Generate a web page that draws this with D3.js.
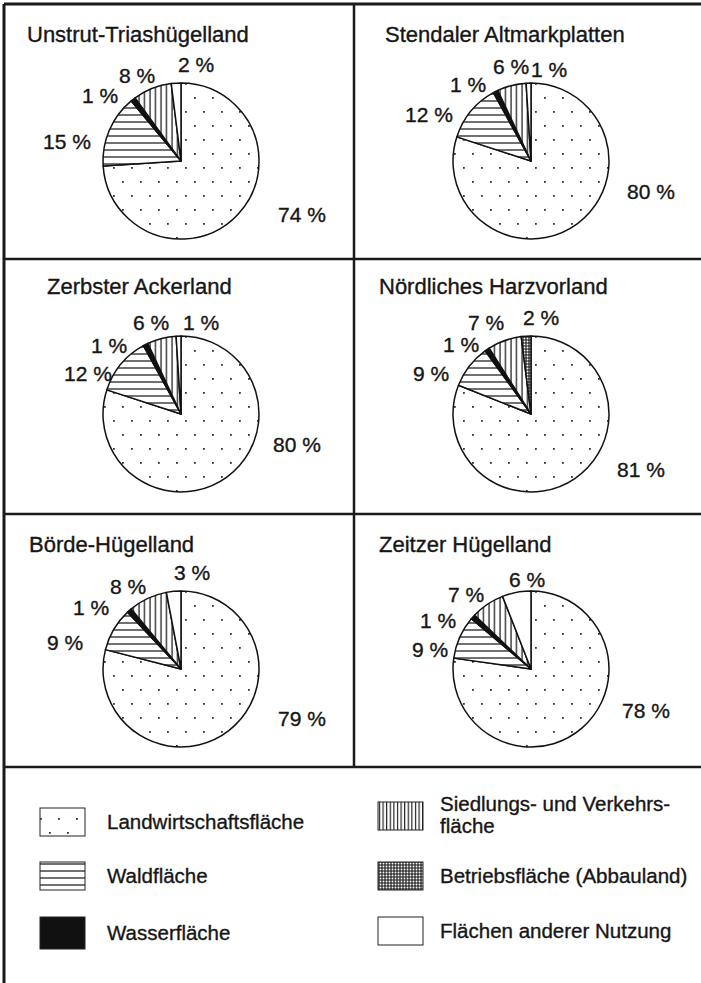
<!DOCTYPE html>
<html>
<head>
<meta charset="utf-8">
<script src="https://cdn.jsdelivr.net/npm/d3@7"></script>
<style>
  body { margin: 0; background: #fff; }
  text { font-family: "Liberation Sans", Arial, sans-serif; fill: #161616; stroke: #161616; stroke-width: 0.35px; }
</style>
</head>
<body>
<div id="chart"></div>
<script>
// Flächennutzung nach Landschaftseinheiten (Anteile in %)
const regions = ["Unstrut-Triashügelland", "Stendaler Altmarkplatten", "Zerbster Ackerland",
                 "Nördliches Harzvorland", "Börde-Hügelland", "Zeitzer Hügelland"];
const categories = ["Landwirtschaftsfläche", "Waldfläche", "Wasserfläche",
                    "Siedlungs- und Verkehrsfläche", "Betriebsfläche (Abbauland)", "Flächen anderer Nutzung"];
const landwirtschaft = [74, 80, 80, 81, 79, 78];
const wald           = [15, 12, 12,  9,  9,  9];
const wasser         = [ 1,  1,  1,  1,  1,  1];
const siedlung       = [ 8,  6,  6,  7,  8,  7];
const betrieb        = [ 0,  0,  0,  2,  0,  0];
const andere         = [ 2,  1,  1,  0,  3,  6];

// label placement (left/baseline, relative to pie centre), one per non-zero slice
const labelOffsets = [
  [[97, 61], [-138, -12], [-99, -58], [-62, -78], [-3, -89]],
  [[96, 38], [-126, -39], [-81, -69], [-38, -87], [0, -84]],
  [[92, 38], [-117, -33], [-90, -61], [-48, -84], [2, -84]],
  [[86, 63], [-118, -33], [-88, -62], [-63, -84], [-8, -89]],
  [[97, 57], [-134, -19], [-108, -54], [-71, -75], [-7, -89]],
  [[91, 49], [-119, -12], [-111, -41], [-83, -67], [-22, -82]]
];
const titleDx = [23, 31, 43, 25, 25, 25];

const width = 701, height = 983;
const radius = 78;
const colX = [4, 354], rowY = [4, 259, 514, 767];

const svg = d3.select("#chart").append("svg")
    .attr("width", width).attr("height", height);

// fill patterns
const defs = svg.append("defs");

let p = defs.append("pattern").attr("id", "dots").attr("patternUnits", "userSpaceOnUse")
    .attr("width", 18).attr("height", 28);
p.append("rect").attr("width", 18).attr("height", 28).attr("fill", "#fff");
p.append("rect").attr("x", 4).attr("y", 6).attr("width", 1.8).attr("height", 1.8).attr("fill", "#333");
p.append("rect").attr("x", 13).attr("y", 20).attr("width", 1.8).attr("height", 1.8).attr("fill", "#333");

p = defs.append("pattern").attr("id", "hlines").attr("patternUnits", "userSpaceOnUse")
    .attr("width", 10).attr("height", 7);
p.append("rect").attr("width", 10).attr("height", 7).attr("fill", "#fff");
p.append("line").attr("x1", 0).attr("x2", 10).attr("y1", 3).attr("y2", 3)
    .attr("stroke", "#111").attr("stroke-width", 1.2);

p = defs.append("pattern").attr("id", "vlines").attr("patternUnits", "userSpaceOnUse")
    .attr("width", 5.5).attr("height", 10);
p.append("rect").attr("width", 5.5).attr("height", 10).attr("fill", "#fff");
p.append("line").attr("x1", 2).attr("x2", 2).attr("y1", 0).attr("y2", 10)
    .attr("stroke", "#111").attr("stroke-width", 1.2);

p = defs.append("pattern").attr("id", "vlinesLeg").attr("patternUnits", "userSpaceOnUse")
    .attr("width", 3.6).attr("height", 10);
p.append("rect").attr("width", 3.6).attr("height", 10).attr("fill", "#fff");
p.append("line").attr("x1", 1.5).attr("x2", 1.5).attr("y1", 0).attr("y2", 10)
    .attr("stroke", "#111").attr("stroke-width", 1.1);

p = defs.append("pattern").attr("id", "grid").attr("patternUnits", "userSpaceOnUse")
    .attr("width", 3).attr("height", 3);
p.append("rect").attr("width", 3).attr("height", 3).attr("fill", "#fff");
p.append("path").attr("d", "M1,0V3M0,1H3").attr("stroke", "#111").attr("stroke-width", 1.1);

const fills = ["url(#dots)", "url(#hlines)", "#111", "url(#vlines)", "url(#grid)", "#fff"];
const legendFills = ["url(#dots)", "url(#hlines)", "#111", "url(#vlinesLeg)", "url(#grid)", "#fff"];

// frame
const frame = svg.append("g").attr("fill", "none").attr("stroke", "#1a1a1a");
frame.append("line").attr("x1", colX[0]).attr("x2", colX[0]).attr("y1", rowY[0]).attr("y2", height)
    .attr("stroke-width", 3);
frame.append("line").attr("x1", colX[0]).attr("x2", width).attr("y1", rowY[0]).attr("y2", rowY[0])
    .attr("stroke-width", 3);
rowY.slice(1).forEach(y => frame.append("line").attr("x1", colX[0]).attr("x2", width)
    .attr("y1", y).attr("y2", y).attr("stroke-width", 2.5));
frame.append("line").attr("x1", colX[1]).attr("x2", colX[1]).attr("y1", rowY[0]).attr("y2", rowY[3])
    .attr("stroke-width", 2.5);

const pie = d3.pie().sort(null).value(d => d.v);
const arc = d3.arc().innerRadius(0).outerRadius(radius);

regions.forEach((name, i) => {
  const px = colX[i % 2], py = rowY[Math.floor(i / 2)];
  const cx = px + 177, cy = py + (i < 2 ? 157 : 155);
  const g = svg.append("g");

  g.append("text").attr("x", px + titleDx[i]).attr("y", py + (i === 2 || i === 3 ? 35 : 38))
      .attr("font-size", 22).text(name);

  const vals = [landwirtschaft[i], wald[i], wasser[i], siedlung[i], betrieb[i], andere[i]]
      .map((v, k) => ({v, k}));
  const arcs = pie(vals);

  const pg = g.append("g").attr("transform", `translate(${cx},${cy})`);
  pg.selectAll("path").data(arcs.filter(a => a.data.v > 0)).join("path")
      .attr("d", arc)
      .attr("fill", d => fills[d.data.k])
      .attr("stroke", "#111").attr("stroke-width", 1.5).attr("stroke-linejoin", "round");

  const shown = arcs.filter(a => a.data.v > 0);
  pg.selectAll("text").data(shown).join("text")
      .attr("x", (d, j) => labelOffsets[i][j][0])
      .attr("y", (d, j) => labelOffsets[i][j][1])
      .attr("font-size", 21)
      .text(d => d.data.v + " %");
});

// legend
const legX = [40, 378], legY = [808, 862, 917];
const leg = svg.append("g");
categories.forEach((c, k) => {
  const col = Math.floor(k / 3), row = k % 3;
  const bx = legX[col], by = legY[row];
  const bh = (k === 2) ? 32 : 28;
  leg.append("rect").attr("x", bx).attr("y", by - (k === 3 ? 6 : 0))
      .attr("width", 45).attr("height", bh)
      .attr("fill", legendFills[k]).attr("stroke", "#222").attr("stroke-width", 1);
  const t = leg.append("text").attr("font-size", 20.5);
  if (k === 3) {
    t.attr("y", by + 3);
    t.append("tspan").attr("x", bx + 62).text("Siedlungs- und Verkehrs-");
    t.append("tspan").attr("x", bx + 62).attr("dy", 22).text("fläche");
  } else {
    t.attr("x", bx + (col ? 62 : 67)).attr("y", by + bh / 2 + 7).text(c);
  }
});
</script>
</body>
</html>
